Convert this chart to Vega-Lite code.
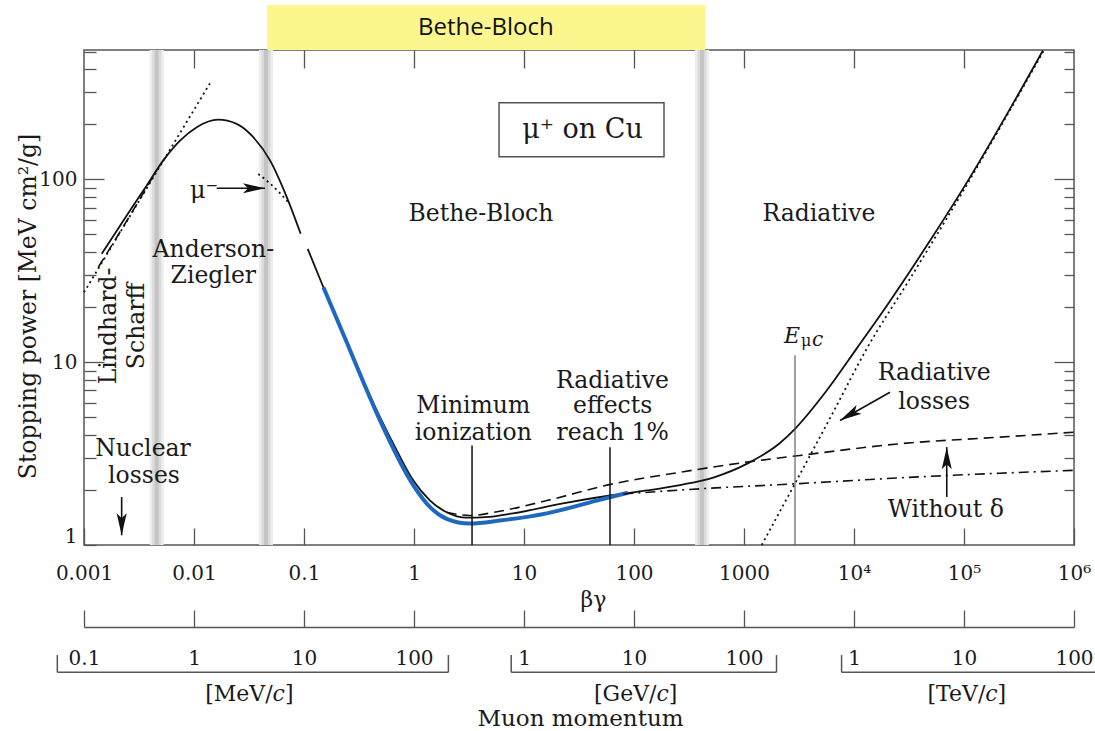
{
  "$schema": "https://vega.github.io/schema/vega-lite/v6.json",
  "width": 990,
  "height": 495,
  "autosize": "none",
  "padding": {"left": 84, "top": 50, "right": 21, "bottom": 186},
  "background": "white",
  "config": {
    "view": {"stroke": "#555", "strokeWidth": 1.5},
    "font": "DejaVu Serif",
    "axis": {"grid": false, "domain": false, "domainColor": "#555", "domainWidth": 1.5, "tickColor": "#555", "tickWidth": 1.3, "labelFont": "DejaVu Serif", "labelFontSize": 20, "labelColor": "#1a1a1a", "labelFlush": false, "labelOverlap": false, "titleFont": "DejaVu Serif", "titleFontWeight": "normal", "titleColor": "#1a1a1a"},
    "text": {"font": "DejaVu Serif", "fontSize": 23.5, "color": "#1a1a1a"}
  },
  "datasets": {
    "bands": [
      {"name": "b1", "o1": 0.003956, "o2": 0.005303, "m1": 0.004169, "m2": 0.005032, "i1": 0.004392, "i2": 0.004776},
      {"name": "b2", "o1": 0.039, "o2": 0.05227, "m1": 0.04108, "m2": 0.04961, "i1": 0.04329, "i2": 0.04707},
      {"name": "b3", "o1": 358.5, "o2": 480.6, "m1": 377.8, "m2": 456.1, "i1": 398.1, "i2": 432.9}
    ],
    "region": [{"label": "Bethe-Bloch", "lo": 0.04638, "hi": 442, "bot": 510, "top": 899, "bg": 4.5, "s": 677}],
    "box": [{"label": "μ⁺ on Cu", "lo": 5.93, "hi": 187.4, "bot": 133.1, "top": 262.8, "bg": 34.0, "s": 186.3}],
    "solid": [
      {"seg": "A", "bg": 0.00145, "s": 39.2}, {"seg": "A", "bg": 0.00262, "s": 67.6}, {"seg": "A", "bg": 0.00372, "s": 92.6},
      {"seg": "A", "bg": 0.00526, "s": 127}, {"seg": "A", "bg": 0.00746, "s": 163}, {"seg": "A", "bg": 0.0106, "s": 193},
      {"seg": "A", "bg": 0.0166, "s": 212}, {"seg": "A", "bg": 0.0244, "s": 201}, {"seg": "A", "bg": 0.0346, "s": 170},
      {"seg": "A", "bg": 0.0491, "s": 127}, {"seg": "A", "bg": 0.0697, "s": 80}, {"seg": "A", "bg": 0.0933, "s": 50.4},
      {"seg": "B", "bg": 0.108, "s": 41.7}, {"seg": "B", "bg": 0.15, "s": 25.7}, {"seg": "B", "bg": 0.244, "s": 13.1},
      {"seg": "B", "bg": 0.346, "s": 7.94}, {"seg": "B", "bg": 0.491, "s": 5.0}, {"seg": "B", "bg": 0.697, "s": 3.29},
      {"seg": "B", "bg": 0.987, "s": 2.25}, {"seg": "B", "bg": 1.4, "s": 1.75}, {"seg": "B", "bg": 1.98, "s": 1.51},
      {"seg": "B", "bg": 3.0, "s": 1.41}, {"seg": "B", "bg": 4.5, "s": 1.42}, {"seg": "B", "bg": 7.94, "s": 1.49},
      {"seg": "B", "bg": 22.6, "s": 1.69}, {"seg": "B", "bg": 64.9, "s": 1.877}, {"seg": "B", "bg": 130.5, "s": 1.987},
      {"seg": "B", "bg": 261.8, "s": 2.128}, {"seg": "B", "bg": 526, "s": 2.338}, {"seg": "B", "bg": 1058, "s": 2.777},
      {"seg": "B", "bg": 2123, "s": 3.612}, {"seg": "B", "bg": 2908, "s": 4.32}, {"seg": "B", "bg": 5650, "s": 7.0},
      {"seg": "B", "bg": 10600, "s": 11.9}, {"seg": "B", "bg": 19800, "s": 20.3}, {"seg": "B", "bg": 50000, "s": 47},
      {"seg": "B", "bg": 106000, "s": 96}, {"seg": "B", "bg": 522000, "s": 507}
    ],
    "blue": [
      {"bg": 0.15, "s": 25.7}, {"bg": 0.244, "s": 12.9}, {"bg": 0.346, "s": 7.8}, {"bg": 0.491, "s": 4.8},
      {"bg": 0.987, "s": 2.12}, {"bg": 1.4, "s": 1.61}, {"bg": 1.98, "s": 1.39}, {"bg": 3.23, "s": 1.31},
      {"bg": 6.05, "s": 1.36}, {"bg": 16.1, "s": 1.49}, {"bg": 45.8, "s": 1.75}, {"bg": 88, "s": 1.93}
    ],
    "dashed": [
      {"seg": "low", "bg": 0.00135, "s": 33.1}, {"seg": "low", "bg": 0.00262, "s": 63.5}, {"seg": "low", "bg": 0.00458, "s": 112},
      {"seg": "high", "bg": 1.98, "s": 1.51}, {"seg": "high", "bg": 3.2, "s": 1.45}, {"seg": "high", "bg": 6, "s": 1.53},
      {"seg": "high", "bg": 16.1, "s": 1.75}, {"seg": "high", "bg": 64.4, "s": 2.16}, {"seg": "high", "bg": 262, "s": 2.5},
      {"seg": "high", "bg": 1059, "s": 2.84}, {"seg": "high", "bg": 3228, "s": 3.09}, {"seg": "high", "bg": 26200, "s": 3.58},
      {"seg": "high", "bg": 212000, "s": 3.89}, {"seg": "high", "bg": 1000000, "s": 4.14}
    ],
    "dashdot": [
      {"bg": 80, "s": 1.9}, {"bg": 398, "s": 2.03}, {"bg": 2908, "s": 2.16}, {"bg": 26200, "s": 2.33},
      {"bg": 212000, "s": 2.47}, {"bg": 1000000, "s": 2.56}
    ],
    "dotted": [
      {"seg": "lindhard", "bg": 0.001, "s": 24.1}, {"seg": "lindhard", "bg": 0.0145, "s": 348},
      {"seg": "muminus", "bg": 0.0384, "s": 107}, {"seg": "muminus", "bg": 0.0491, "s": 95}, {"seg": "muminus", "bg": 0.0605, "s": 84}, {"seg": "muminus", "bg": 0.072, "s": 75},
      {"seg": "radiative", "bg": 1449, "s": 1.0}, {"seg": "radiative", "bg": 2908, "s": 2.17}, {"seg": "radiative", "bg": 6440, "s": 5.3},
      {"seg": "radiative", "bg": 13000, "s": 11.8}, {"seg": "radiative", "bg": 31000, "s": 27.5}, {"seg": "radiative", "bg": 100000, "s": 88},
      {"seg": "radiative", "bg": 530000, "s": 505}
    ],
    "vlines": [{"name": "minimum ionization", "bg": 3.37, "bot": 1, "top": 3.5}, {"name": "radiative 1%", "bg": 60.5, "bot": 1, "top": 3.43}],
    "emuc": [{"name": "E_muc", "bg": 2908, "bot": 1, "top": 10.9}],
    "arrows": [
      {"name": "nuclear", "bg1": 0.0022, "s1": 1.83, "bg2": 0.0022, "s2": 1.13},
      {"name": "muminus", "bg1": 0.01608, "s1": 89.4, "bg2": 0.0442, "s2": 89.4},
      {"name": "radiative", "bg1": 21240, "s1": 6.85, "bg2": 7460, "s2": 4.8},
      {"name": "withoutdelta", "bg1": 69700, "s1": 1.83, "bg2": 69700, "s2": 3.43}
    ],
    "labels": [
      {"label": "Bethe-Bloch", "bg": 4.06, "s": 64.7},
      {"label": "Radiative", "bg": 4808, "s": 64.7},
      {"label": "Anderson-", "bg": 0.01498, "s": 41.1},
      {"label": "Ziegler", "bg": 0.01498, "s": 29.6},
      {"label": "Nuclear", "bg": 0.00344, "s": 3.35},
      {"label": "losses", "bg": 0.00351, "s": 2.385},
      {"label": "Minimum", "bg": 3.46, "s": 5.76},
      {"label": "ionization", "bg": 3.46, "s": 4.1},
      {"label": "Radiative", "bg": 63.6, "s": 7.89},
      {"label": "effects", "bg": 64.0, "s": 5.73},
      {"label": "reach 1%", "bg": 64.0, "s": 4.12},
      {"label": "Radiative", "bg": 53600, "s": 8.7},
      {"label": "losses", "bg": 53600, "s": 6.08},
      {"label": "Without δ", "bg": 68300, "s": 1.554}
    ],
    "rotlabels": [{"label": "Lindhard-", "bg": 0.00169, "s": 15.78}, {"label": "Scharff", "bg": 0.00303, "s": 15.78}],
    "muminus": [{"label": "μ⁻", "bg": 0.01233, "s": 79.1}],
    "ebig": [{"label": "E", "bg": 3228, "s": 12.69}],
    "esub": [{"label": "μ", "bg": 3296, "s": 12.27}],
    "esubc": [{"label": "c", "bg": 4150, "s": 12.27}],
    "brackets": [{"unit": "MeV", "lo": 0.000572, "hi": 2.054, "y": 0.2012}, {"unit": "GeV", "lo": 7.65, "hi": 1975, "y": 0.2012}, {"unit": "TeV", "lo": 7710, "hi": 1720000, "y": 0.2012}],
    "bracketEnds": [{"bg": 0.000572, "y1": 0.2012, "y2": 0.25}, {"bg": 2.054, "y1": 0.2012, "y2": 0.25}, {"bg": 7.65, "y1": 0.2012, "y2": 0.25}, {"bg": 1975, "y1": 0.2012, "y2": 0.25}, {"bg": 7710, "y1": 0.2012, "y2": 0.25}],
    "unitsHead": [{"label": "[MeV/", "bg": 0.05182, "s": 0.153}, {"label": "[GeV/", "bg": 160.2, "s": 0.153}, {"label": "[TeV/", "bg": 156200, "s": 0.153}],
    "unitsC": [{"label": "c", "bg": 0.05182, "s": 0.153}, {"label": "c", "bg": 160.2, "s": 0.153}, {"label": "c", "bg": 156200, "s": 0.153}],
    "unitsTail": [{"label": "]", "bg": 0.06706, "s": 0.153}, {"label": "]", "bg": 207.2, "s": 0.153}, {"label": "]", "bg": 202100, "s": 0.153}]
  },
  "layer": [
    {"data": {"name": "bands"}, "mark": {"type": "rect", "color": "#ededed"},
     "encoding": {"x": {"field": "o1", "type": "quantitative", "scale": {"type": "log", "domain": [0.001, 1000000], "nice": false}, "axis": null}, "x2": {"field": "o2"}}},
    {"data": {"name": "bands"}, "mark": {"type": "rect", "color": "#dadada"},
     "encoding": {"x": {"field": "m1", "type": "quantitative", "scale": {"type": "log", "domain": [0.001, 1000000], "nice": false}, "axis": null}, "x2": {"field": "m2"}}},
    {"data": {"name": "bands"}, "mark": {"type": "rect", "color": "#c4c4c4"},
     "encoding": {"x": {"field": "i1", "type": "quantitative", "scale": {"type": "log", "domain": [0.001, 1000000], "nice": false}, "axis": null}, "x2": {"field": "i2"}}},
    {"data": {"name": "region"}, "mark": {"type": "rect", "color": "#fcf68e"},
     "encoding": {"x": {"field": "lo", "type": "quantitative", "scale": {"type": "log", "domain": [0.001, 1000000], "nice": false}, "axis": null}, "x2": {"field": "hi"},
                  "y": {"field": "bot", "type": "quantitative", "scale": {"type": "log", "domain": [1, 510], "nice": false}, "axis": null}, "y2": {"field": "top"}}},
    {"data": {"name": "region"}, "mark": {"type": "text", "font": "Open Sans", "fontSize": 24, "color": "#111"},
     "encoding": {"x": {"field": "bg", "type": "quantitative", "scale": {"type": "log", "domain": [0.001, 1000000], "nice": false}, "axis": null},
                  "y": {"field": "s", "type": "quantitative", "scale": {"type": "log", "domain": [1, 510], "nice": false}, "axis": null}, "text": {"field": "label"}}},
    {"data": {"name": "box"}, "mark": {"type": "rect", "fill": "white", "stroke": "#555", "strokeWidth": 1.5},
     "encoding": {"x": {"field": "lo", "type": "quantitative", "scale": {"type": "log", "domain": [0.001, 1000000], "nice": false}, "axis": null}, "x2": {"field": "hi"},
                  "y": {"field": "bot", "type": "quantitative", "scale": {"type": "log", "domain": [1, 510], "nice": false}, "axis": null}, "y2": {"field": "top"}}},
    {"data": {"name": "box"}, "mark": {"type": "text", "fontSize": 27},
     "encoding": {"x": {"field": "bg", "type": "quantitative", "scale": {"type": "log", "domain": [0.001, 1000000], "nice": false}, "axis": null},
                  "y": {"field": "s", "type": "quantitative", "scale": {"type": "log", "domain": [1, 510], "nice": false}, "axis": null}, "text": {"field": "label"}}},
    {"data": {"name": "solid"}, "mark": {"type": "line", "color": "#111", "strokeWidth": 1.8, "interpolate": "monotone"},
     "encoding": {
       "x": {"field": "bg", "type": "quantitative", "scale": {"type": "log", "domain": [0.001, 1000000], "nice": false},
             "axis": {"orient": "bottom", "offset": -17, "values": [0.001, 0.01, 0.1, 1, 10, 100, 1000, 10000, 100000, 1000000], "tickSize": 17, "labelPadding": 18,
                      "labelExpr": "datum.value < 0.005 ? '0.001' : datum.value < 0.05 ? '0.01' : datum.value < 0.5 ? '0.1' : datum.value < 5 ? '1' : datum.value < 50 ? '10' : datum.value < 500 ? '100' : datum.value < 5000 ? '1000' : datum.value < 50000 ? '10⁴' : datum.value < 500000 ? '10⁵' : '10⁶'",
                      "title": "βγ", "titleFontSize": 22, "titleX": 509, "titleY": 71, "titleAlign": "center", "titleBaseline": "middle", "titleAngle": 0}},
       "y": {"field": "s", "type": "quantitative", "scale": {"type": "log", "domain": [1, 510], "nice": false},
             "axis": {"orient": "left", "offset": -20, "values": [10, 100], "tickSize": 20, "labelExpr": "datum.value == 10 ? '10' : '100'", "labelPadding": 7,
                      "title": "Stopping power [MeV cm²/g]", "titleFontSize": 23.5, "titleAngle": 270, "titleX": -76, "titleY": 256, "titleAlign": "center", "titleBaseline": "middle"}},
       "detail": {"field": "seg"}}},
    {"data": {"name": "blue"}, "mark": {"type": "line", "color": "#1f68c0", "strokeWidth": 4, "interpolate": "monotone"},
     "encoding": {"x": {"field": "bg", "type": "quantitative", "scale": {"type": "log", "domain": [0.001, 1000000], "nice": false}, "axis": null},
                  "y": {"field": "s", "type": "quantitative", "scale": {"type": "log", "domain": [1, 510], "nice": false},
                        "axis": {"orient": "left", "offset": -12, "values": [1, 2, 3, 4, 5, 6, 7, 8, 9, 20, 30, 40, 50, 60, 70, 80, 90, 200, 300, 400, 500], "tickSize": 12,
                                 "labelExpr": "datum.value == 1 ? '1' : ''", "labelPadding": 7, "labelOffset": -9, "title": null}}}},
    {"data": {"name": "dashed"}, "mark": {"type": "line", "color": "#111", "strokeWidth": 1.6, "strokeDash": [10, 6], "interpolate": "monotone"},
     "encoding": {
       "x": {"field": "bg", "type": "quantitative", "scale": {"type": "log", "domain": [0.001, 1000000], "nice": false},
             "axis": {"orient": "top", "offset": -18, "values": [0.01, 0.1, 1, 10, 100, 1000, 10000, 100000], "tickSize": 18, "labels": false, "title": null}},
       "y": {"field": "s", "type": "quantitative", "scale": {"type": "log", "domain": [1, 510], "nice": false},
             "axis": {"orient": "right", "offset": -20, "values": [10, 100], "tickSize": 20, "labels": false, "title": null}},
       "detail": {"field": "seg"}}},
    {"data": {"name": "dashdot"}, "mark": {"type": "line", "color": "#111", "strokeWidth": 1.6, "strokeDash": [10, 5, 2, 5], "interpolate": "monotone"},
     "encoding": {"x": {"field": "bg", "type": "quantitative", "scale": {"type": "log", "domain": [0.001, 1000000], "nice": false},
                        "axis": {"orient": "bottom", "offset": 82, "domain": true, "ticks": false, "labels": false, "title": null}},
                  "y": {"field": "s", "type": "quantitative", "scale": {"type": "log", "domain": [1, 510], "nice": false},
                        "axis": {"orient": "right", "offset": -10, "values": [2, 3, 4, 5, 6, 7, 8, 9, 20, 30, 40, 50, 60, 70, 80, 90, 200, 300, 400, 500], "tickSize": 10, "labels": false, "title": null}}}},
    {"data": {"name": "dotted"}, "mark": {"type": "line", "color": "#111", "strokeWidth": 1.8, "strokeDash": [2, 3.5], "interpolate": "monotone"},
     "encoding": {
       "x": {"field": "bg", "type": "quantitative", "scale": {"type": "log", "domain": [0.001, 1000000], "nice": false},
             "axis": {"orient": "bottom", "offset": 65, "values": [0.001, 0.01, 0.1, 1, 10, 100, 1000, 10000, 100000, 1000000], "tickSize": 17, "labelPadding": 21,
                      "labelExpr": "datum.value < 0.005 ? '0.1' : datum.value < 0.05 ? '1' : datum.value < 0.5 ? '10' : datum.value < 5 ? '100' : datum.value < 50 ? '1' : datum.value < 500 ? '10' : datum.value < 5000 ? '100' : datum.value < 50000 ? '1' : datum.value < 500000 ? '10' : '100'",
                      "title": "Muon momentum", "titleFontSize": 23, "titleX": 496, "titleY": 108, "titleAlign": "center", "titleBaseline": "middle", "titleAngle": 0}},
       "y": {"field": "s", "type": "quantitative", "scale": {"type": "log", "domain": [1, 510], "nice": false}, "axis": null},
       "detail": {"field": "seg"}}},
    {"data": {"name": "vlines"}, "mark": {"type": "rule", "color": "#111", "strokeWidth": 1.5},
     "encoding": {"x": {"field": "bg", "type": "quantitative", "scale": {"type": "log", "domain": [0.001, 1000000], "nice": false}, "axis": null},
                  "y": {"field": "bot", "type": "quantitative", "scale": {"type": "log", "domain": [1, 510], "nice": false}, "axis": null}, "y2": {"field": "top"}}},
    {"data": {"name": "emuc"}, "mark": {"type": "rule", "color": "#555", "strokeWidth": 1.1},
     "encoding": {"x": {"field": "bg", "type": "quantitative", "scale": {"type": "log", "domain": [0.001, 1000000], "nice": false}, "axis": null},
                  "y": {"field": "bot", "type": "quantitative", "scale": {"type": "log", "domain": [1, 510], "nice": false}, "axis": null}, "y2": {"field": "top"}}},
    {"data": {"name": "arrows"}, "mark": {"type": "rule", "color": "#111", "strokeWidth": 1.6},
     "encoding": {"x": {"field": "bg1", "type": "quantitative", "scale": {"type": "log", "domain": [0.001, 1000000], "nice": false}, "axis": null}, "x2": {"field": "bg2"},
                  "y": {"field": "s1", "type": "quantitative", "scale": {"type": "log", "domain": [1, 510], "nice": false}, "axis": null}, "y2": {"field": "s2"}}},
    {"data": {"name": "arrows"}, "transform": [{"filter": "datum.name == 'nuclear'"}],
     "mark": {"type": "point", "shape": "M0,0L-0.5,2.2L0,1.7L0.5,2.2Z", "filled": true, "color": "#111", "size": 400, "opacity": 1, "angle": 180},
     "encoding": {"x": {"field": "bg2", "type": "quantitative", "scale": {"type": "log", "domain": [0.001, 1000000], "nice": false}, "axis": null},
                  "y": {"field": "s2", "type": "quantitative", "scale": {"type": "log", "domain": [1, 510], "nice": false}, "axis": null}}},
    {"data": {"name": "arrows"}, "transform": [{"filter": "datum.name == 'muminus'"}],
     "mark": {"type": "point", "shape": "M0,0L-0.5,2.2L0,1.7L0.5,2.2Z", "filled": true, "color": "#111", "size": 400, "opacity": 1, "angle": 90},
     "encoding": {"x": {"field": "bg2", "type": "quantitative", "scale": {"type": "log", "domain": [0.001, 1000000], "nice": false}, "axis": null},
                  "y": {"field": "s2", "type": "quantitative", "scale": {"type": "log", "domain": [1, 510], "nice": false}, "axis": null}}},
    {"data": {"name": "arrows"}, "transform": [{"filter": "datum.name == 'radiative'"}],
     "mark": {"type": "point", "shape": "M0,0L-0.5,2.2L0,1.7L0.5,2.2Z", "filled": true, "color": "#111", "size": 400, "opacity": 1, "angle": 240},
     "encoding": {"x": {"field": "bg2", "type": "quantitative", "scale": {"type": "log", "domain": [0.001, 1000000], "nice": false}, "axis": null},
                  "y": {"field": "s2", "type": "quantitative", "scale": {"type": "log", "domain": [1, 510], "nice": false}, "axis": null}}},
    {"data": {"name": "arrows"}, "transform": [{"filter": "datum.name == 'withoutdelta'"}],
     "mark": {"type": "point", "shape": "M0,0L-0.5,2.2L0,1.7L0.5,2.2Z", "filled": true, "color": "#111", "size": 400, "opacity": 1, "angle": 0},
     "encoding": {"x": {"field": "bg2", "type": "quantitative", "scale": {"type": "log", "domain": [0.001, 1000000], "nice": false}, "axis": null},
                  "y": {"field": "s2", "type": "quantitative", "scale": {"type": "log", "domain": [1, 510], "nice": false}, "axis": null}}},
    {"data": {"name": "labels"}, "mark": {"type": "text"},
     "encoding": {"x": {"field": "bg", "type": "quantitative", "scale": {"type": "log", "domain": [0.001, 1000000], "nice": false}, "axis": null},
                  "y": {"field": "s", "type": "quantitative", "scale": {"type": "log", "domain": [1, 510], "nice": false}, "axis": null}, "text": {"field": "label"}}},
    {"data": {"name": "rotlabels"}, "mark": {"type": "text", "angle": 270},
     "encoding": {"x": {"field": "bg", "type": "quantitative", "scale": {"type": "log", "domain": [0.001, 1000000], "nice": false}, "axis": null},
                  "y": {"field": "s", "type": "quantitative", "scale": {"type": "log", "domain": [1, 510], "nice": false}, "axis": null}, "text": {"field": "label"}}},
    {"data": {"name": "muminus"}, "mark": {"type": "text", "fontSize": 24, "baseline": "alphabetic"},
     "encoding": {"x": {"field": "bg", "type": "quantitative", "scale": {"type": "log", "domain": [0.001, 1000000], "nice": false}, "axis": null},
                  "y": {"field": "s", "type": "quantitative", "scale": {"type": "log", "domain": [1, 510], "nice": false}, "axis": null}, "text": {"field": "label"}}},
    {"data": {"name": "ebig"}, "mark": {"type": "text", "fontSize": 22, "fontStyle": "italic", "align": "right", "baseline": "alphabetic"},
     "encoding": {"x": {"field": "bg", "type": "quantitative", "scale": {"type": "log", "domain": [0.001, 1000000], "nice": false}, "axis": null},
                  "y": {"field": "s", "type": "quantitative", "scale": {"type": "log", "domain": [1, 510], "nice": false}, "axis": null}, "text": {"field": "label"}}},
    {"data": {"name": "esub"}, "mark": {"type": "text", "fontSize": 16, "align": "left", "baseline": "alphabetic"},
     "encoding": {"x": {"field": "bg", "type": "quantitative", "scale": {"type": "log", "domain": [0.001, 1000000], "nice": false}, "axis": null},
                  "y": {"field": "s", "type": "quantitative", "scale": {"type": "log", "domain": [1, 510], "nice": false}, "axis": null}, "text": {"field": "label"}}},
    {"data": {"name": "esubc"}, "mark": {"type": "text", "fontSize": 20, "fontStyle": "italic", "align": "left", "baseline": "alphabetic"},
     "encoding": {"x": {"field": "bg", "type": "quantitative", "scale": {"type": "log", "domain": [0.001, 1000000], "nice": false}, "axis": null},
                  "y": {"field": "s", "type": "quantitative", "scale": {"type": "log", "domain": [1, 510], "nice": false}, "axis": null}, "text": {"field": "label"}}},
    {"data": {"name": "brackets"}, "mark": {"type": "rule", "color": "#555", "strokeWidth": 1.5},
     "encoding": {"x": {"field": "lo", "type": "quantitative", "scale": {"type": "log", "domain": [0.001, 1000000], "nice": false}, "axis": null}, "x2": {"field": "hi"},
                  "y": {"field": "y", "type": "quantitative", "scale": {"type": "log", "domain": [1, 510], "nice": false}, "axis": null}}},
    {"data": {"name": "bracketEnds"}, "mark": {"type": "rule", "color": "#555", "strokeWidth": 1.5},
     "encoding": {"x": {"field": "bg", "type": "quantitative", "scale": {"type": "log", "domain": [0.001, 1000000], "nice": false}, "axis": null},
                  "y": {"field": "y1", "type": "quantitative", "scale": {"type": "log", "domain": [1, 510], "nice": false}, "axis": null}, "y2": {"field": "y2"}}},
    {"data": {"name": "unitsHead"}, "mark": {"type": "text", "fontSize": 22, "align": "right"},
     "encoding": {"x": {"field": "bg", "type": "quantitative", "scale": {"type": "log", "domain": [0.001, 1000000], "nice": false}, "axis": null},
                  "y": {"field": "s", "type": "quantitative", "scale": {"type": "log", "domain": [1, 510], "nice": false}, "axis": null}, "text": {"field": "label"}}},
    {"data": {"name": "unitsC"}, "mark": {"type": "text", "fontSize": 22, "fontStyle": "italic", "align": "left"},
     "encoding": {"x": {"field": "bg", "type": "quantitative", "scale": {"type": "log", "domain": [0.001, 1000000], "nice": false}, "axis": null},
                  "y": {"field": "s", "type": "quantitative", "scale": {"type": "log", "domain": [1, 510], "nice": false}, "axis": null}, "text": {"field": "label"}}},
    {"data": {"name": "unitsTail"}, "mark": {"type": "text", "fontSize": 22, "align": "left"},
     "encoding": {"x": {"field": "bg", "type": "quantitative", "scale": {"type": "log", "domain": [0.001, 1000000], "nice": false}, "axis": null},
                  "y": {"field": "s", "type": "quantitative", "scale": {"type": "log", "domain": [1, 510], "nice": false}, "axis": null}, "text": {"field": "label"}}}
  ],
  "resolve": {"axis": {"x": "independent", "y": "independent"}}
}
